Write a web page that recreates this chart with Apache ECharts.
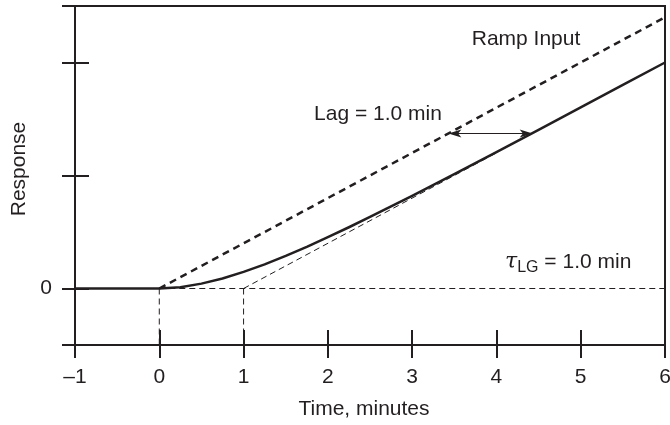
<!DOCTYPE html>
<html>
<head>
<meta charset="utf-8">
<script src="https://cdn.jsdelivr.net/npm/echarts@6/dist/echarts.min.js"></script>
<style>
  html, body { margin: 0; padding: 0; background: #fff; }
  #chart { width: 670px; height: 425px; }
</style>
</head>
<body>
<div id="chart"></div>
<script>
// First-order lag driven by a ramp (slope 0.4 per minute, lag time constant 1.0 min)
const rampTimes = [0, 6];
const rampValues = [0, 2.4];

const responseTimes  = [-1, 0, 0.25, 0.5, 0.75, 1, 1.25, 1.5, 1.75, 2, 2.25, 2.5, 2.75, 3, 3.5, 4, 4.5, 5, 5.5, 6];
const responseValues = [0, 0, 0.012, 0.043, 0.089, 0.147, 0.214, 0.289, 0.369, 0.454, 0.542, 0.633, 0.726, 0.820, 1.012, 1.207, 1.404, 1.603, 1.802, 2.0];

// Asymptote of the response: the ramp shifted right by the lag
const asymptoteTimes  = [1, 4];
const asymptoteValues = [0, 1.2];

// Baseline and drop lines
const baselineTimes  = [0, 6];
const baselineValues = [0, 0];
const dropTimes = [0, 1];

// Lag marker between the ramp and the response
const lagLevel = 1.372;
const lagFrom = 3.43;
const lagTo = 4.43;

const xTicks = [-1, 0, 1, 2, 3, 4, 5, 6];
const yTicks = [0, 1, 2];
const yLabels = [0];

const ink = '#231f20';
const font = 'Liberation Sans, Arial, Helvetica, sans-serif';
const fontSize = 21;

const zip = (xs, ys) => xs.map((x, i) => [x, ys[i]]);

const chart = echarts.init(document.getElementById('chart'), null, { renderer: 'canvas' });

const thinDash = { color: ink, width: 1, type: [6, 4] };

const series = [
  {
    name: 'Response',
    type: 'line',
    data: zip(responseTimes, responseValues),
    showSymbol: false,
    lineStyle: { color: ink, width: 2.5, join: 'round' },
    z: 5
  },
  {
    name: 'Ramp Input',
    type: 'line',
    data: zip(rampTimes, rampValues),
    showSymbol: false,
    lineStyle: { color: ink, width: 2.5, type: [7, 5] },
    z: 4
  },
  {
    name: 'Asymptote',
    type: 'line',
    data: zip(asymptoteTimes, asymptoteValues),
    showSymbol: false,
    lineStyle: thinDash,
    z: 3
  },
  {
    name: 'Baseline',
    type: 'line',
    data: zip(baselineTimes, baselineValues),
    showSymbol: false,
    lineStyle: thinDash,
    z: 3
  }
];

dropTimes.forEach((t, i) => {
  series.push({
    name: 'Drop ' + i,
    type: 'line',
    data: [[t, 0], [t, -0.5]],
    showSymbol: false,
    lineStyle: thinDash,
    z: 3
  });
});

// Double-headed lag arrow
series.push({
  name: 'Lag',
  type: 'line',
  data: [],
  markLine: {
    silent: true,
    symbol: ['arrow', 'arrow'],
    symbolSize: [6, 13],
    label: { show: false },
    lineStyle: { color: ink, width: 1, type: 'solid' },
    data: [[{ coord: [lagFrom, lagLevel] }, { coord: [lagTo, lagLevel] }]]
  }
});

const axisInk = { lineStyle: { color: ink, width: 2 } };

chart.setOption({
  animation: false,
  backgroundColor: '#fff',
  grid: {
    left: 75, right: 5, top: 6, bottom: 80,
    containLabel: false, outerBoundsMode: 'none',
    show: true, borderColor: ink, borderWidth: 2, backgroundColor: 'transparent'
  },
  xAxis: [
    {
      type: 'value', min: -1, max: 6, interval: 1, position: 'bottom',
      axisLine: { show: true, onZero: false, ...axisInk },
      axisTick: { show: true, inside: false, length: 13, ...axisInk, customValues: xTicks },
      axisLabel: {
        show: true, margin: 22, color: ink, fontFamily: font, fontSize: fontSize,
        customValues: xTicks, hideOverlap: false,
        formatter: v => String(v).replace('-', '\u2013')
      },
      splitLine: { show: false }
    },
    {
      type: 'value', min: -1, max: 6, interval: 1, position: 'bottom',
      axisLine: { show: false, onZero: false },
      axisTick: { show: true, inside: true, length: 15, ...axisInk, customValues: xTicks },
      axisLabel: { show: false },
      splitLine: { show: false }
    }
  ],
  yAxis: [
    {
      type: 'value', min: -0.5, max: 2.5, interval: 0.5, position: 'left',
      axisLine: { show: true, onZero: false, ...axisInk },
      axisTick: { show: true, inside: false, length: 13, ...axisInk, customValues: [-0.5, 0, 1, 2, 2.5] },
      axisLabel: {
        show: true, margin: 23, color: ink, fontFamily: font, fontSize: fontSize,
        customValues: yLabels
      },
      splitLine: { show: false }
    },
    {
      type: 'value', min: -0.5, max: 2.5, interval: 0.5, position: 'left',
      axisLine: { show: false, onZero: false },
      axisTick: { show: true, inside: true, length: 14, ...axisInk, customValues: yTicks },
      axisLabel: { show: false },
      splitLine: { show: false }
    }
  ],
  series: series,
  graphic: [
    {
      type: 'text', x: 364, y: 409,
      style: { text: 'Time, minutes', font: fontSize + 'px ' + font, fill: ink, align: 'center', verticalAlign: 'middle' }
    },
    {
      type: 'text', x: 19, y: 169, rotation: Math.PI / 2,
      style: { text: 'Response', font: fontSize + 'px ' + font, fill: ink, align: 'center', verticalAlign: 'middle' }
    },
    {
      type: 'text', x: 526, y: 39,
      style: { text: 'Ramp Input', font: fontSize + 'px ' + font, fill: ink, align: 'center', verticalAlign: 'middle' }
    },
    {
      type: 'text', x: 378, y: 114,
      style: { text: 'Lag = 1.0 min', font: fontSize + 'px ' + font, fill: ink, align: 'center', verticalAlign: 'middle' }
    },
    {
      type: 'text', x: 505, y: 262,
      style: {
        text: '{t|\u03c4}{s|LG}{n| = 1.0 min}',
        align: 'left', verticalAlign: 'middle', fill: ink,
        rich: {
          t: { fontFamily: 'DejaVu Serif, serif', fontStyle: 'italic', fontSize: 22, fill: ink, lineHeight: 28, verticalAlign: 'middle' },
          s: { fontFamily: font, fontSize: 16, fill: ink, lineHeight: 28, verticalAlign: 'bottom', padding: [12, 0, 0, 0] },
          n: { fontFamily: font, fontSize: fontSize, fill: ink, lineHeight: 28, verticalAlign: 'middle' }
        }
      }
    }
  ]
});
</script>
</body>
</html>
